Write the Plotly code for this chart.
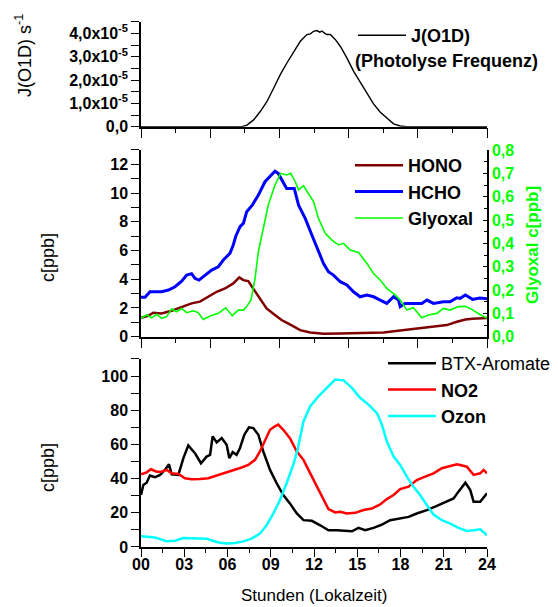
import plotly.graph_objects as go

FONT = "Liberation Sans, Arial, sans-serif"

# ---------------- data (hours local time) ----------------
j_hours = [0, 7.0, 7.35, 7.81, 8.27, 8.74, 9.2, 9.66, 10.12, 10.59, 11.05, 11.51, 11.75, 11.97, 12.2,
           12.4, 12.55, 12.75, 12.9, 13.13, 13.47, 13.82, 14.28, 14.75, 15.21, 15.67, 16.13, 16.6,
           17.06, 17.52, 17.98, 18.44, 24]
j_o1d = [0, 0, 0.07e-5, 0.29e-5, 0.65e-5, 1.08e-5, 1.65e-5, 2.23e-5, 2.73e-5, 3.23e-5, 3.66e-5,
         3.95e-5, 3.98e-5, 4.09e-5, 4.12e-5, 4.05e-5, 4.10e-5, 4.0e-5, 3.95e-5, 3.95e-5, 3.74e-5,
         3.45e-5, 2.95e-5, 2.37e-5, 1.9e-5, 1.44e-5, 0.98e-5, 0.62e-5, 0.36e-5, 0.12e-5, 0.03e-5, 0, 0]

hcho_hours = [0, 0.28, 0.62, 0.97, 1.43, 1.9, 2.36, 2.82, 3.17, 3.51, 3.74, 4.02, 4.44, 4.9, 5.36, 5.71,
              6.17, 6.4, 6.56, 6.87, 7.1, 7.33, 7.72, 8.14, 8.6, 8.95, 9.29, 9.52, 9.87, 10.1, 10.35,
              10.63, 10.93, 11.39, 11.85, 12.31, 12.66, 13.0, 13.35, 13.82, 14.28, 14.74, 15.2, 15.67,
              16.13, 16.59, 17.05, 17.52, 17.86, 17.98, 18.32, 18.9, 19.48, 19.83, 20.29, 20.98, 21.45,
              21.91, 22.14, 22.5, 23.0, 23.5, 24.0]
hcho = [2.74, 2.74, 3.13, 3.13, 3.13, 3.25, 3.48, 3.87, 4.29, 4.39, 4.06, 3.94, 4.29, 4.64, 4.87, 5.34,
        5.8, 6.38, 6.96, 7.66, 7.89, 8.7, 9.16, 9.86, 10.79, 11.14, 11.53, 11.37, 10.67, 10.32, 10.32,
        10.32, 9.16, 8.24, 7.08, 5.92, 5.1, 4.52, 4.29, 3.83, 3.6, 3.13, 2.78, 2.9, 2.78, 2.55, 2.32,
        2.78, 2.55, 2.09, 2.32, 2.32, 2.32, 2.55, 2.32, 2.44, 2.44, 2.71, 2.67, 2.9, 2.6, 2.7, 2.65]

hono_hours = [0, 0.5, 0.85, 1.43, 2.13, 2.82, 3.51, 4.09, 4.67, 5.25, 5.83, 6.4, 6.82, 7.1, 7.44, 7.79,
              8.25, 8.71, 9.29, 9.75, 10.2, 10.8, 11.04, 11.74, 12.66, 13.82, 14.97, 16.82, 17.98,
              19.13, 20.29, 21.21, 21.91, 22.5, 23.0, 24.0]
hono = [1.32, 1.46, 1.67, 1.62, 1.81, 2.09, 2.32, 2.44, 2.78, 3.13, 3.36, 3.71, 4.13, 3.94, 3.87, 3.36,
        2.67, 1.97, 1.51, 1.16, 0.93, 0.58, 0.46, 0.3, 0.21, 0.23, 0.26, 0.3, 0.44, 0.58, 0.7, 0.81,
        1.04, 1.2, 1.25, 1.3]

glyoxal_hours = [0, 0.39, 0.74, 1.09, 1.43, 1.78, 2.13, 2.47, 2.82, 3.17, 3.63, 3.97, 4.32, 4.79, 5.36,
                 5.87, 6.33, 6.75, 7.1, 7.33, 7.63, 7.91, 8.14, 8.48, 8.83, 9.29, 9.69, 10.1, 10.38,
                 10.7, 10.93, 11.27, 11.62, 11.97, 12.31, 12.78, 13.24, 13.7, 14.05, 14.51, 15.09,
                 15.67, 16.13, 16.59, 17.05, 17.63, 17.98, 18.44, 18.9, 19.48, 19.94, 20.52, 20.98,
                 21.45, 22.02, 22.5, 23.0, 23.5, 24.0]
glyoxal = [0.079, 0.093, 0.081, 0.096, 0.079, 0.086, 0.119, 0.107, 0.121, 0.103, 0.111, 0.103, 0.074,
           0.089, 0.1, 0.124, 0.09, 0.114, 0.114, 0.129, 0.157, 0.25, 0.364, 0.464, 0.564, 0.65, 0.7,
           0.693, 0.7, 0.664, 0.629, 0.647, 0.614, 0.579, 0.507, 0.443, 0.414, 0.393, 0.4, 0.371,
           0.361, 0.314, 0.271, 0.243, 0.207, 0.179, 0.157, 0.114, 0.124, 0.081, 0.093, 0.1, 0.121,
           0.114, 0.129, 0.13, 0.115, 0.095, 0.08]

btx_hours = [0, 0.16, 0.39, 0.62, 0.97, 1.32, 1.66, 1.94, 2.13, 2.59, 2.94, 3.28, 3.74, 4.16, 4.55,
             4.79, 4.97, 5.25, 5.6, 5.94, 6.13, 6.36, 6.63, 6.86, 7.17, 7.49, 7.79, 8.14, 8.48, 8.95,
             9.41, 9.87, 10.33, 10.81, 11.27, 11.85, 12.43, 13.0, 13.59, 14.16, 14.63, 15.09, 15.55,
             16.13, 16.71, 17.28, 17.98, 18.56, 19.13, 19.83, 20.52, 21.21, 21.68, 22.02, 22.5,
             22.84, 23.07, 23.53, 24.0]
btx = [30.4, 36.3, 37.6, 41.8, 40.8, 42.2, 45.1, 48.4, 42.5, 42.2, 52, 59.4, 54.9, 49, 52.9, 53.9,
       64.7, 61.2, 63.7, 59.8, 52, 55.5, 53.9, 57.8, 65.7, 70, 69.6, 65.7, 55.9, 45.1, 37.3, 30.4,
       25.5, 19.6, 15.7, 15.3, 12.7, 9.8, 9.8, 9.4, 9.2, 11.2, 9.8, 11.2, 13.1, 15.7, 16.7, 17.6,
       19.6, 21.6, 24.1, 26.5, 28.4, 32.4, 37.6, 33.3, 26.5, 26.5, 31.4]

no2_hours = [0, 0.39, 0.69, 1.09, 1.43, 1.78, 2.13, 2.59, 3.05, 3.51, 4.09, 4.67, 5.25, 5.83, 6.4,
             6.98, 7.44, 7.91, 8.25, 8.6, 8.95, 9.29, 9.52, 9.87, 10.33, 10.81, 11.27, 11.74, 12.2,
             12.66, 13.0, 13.47, 13.82, 14.28, 14.86, 15.44, 16.01, 16.59, 17.05, 17.52, 17.98,
             18.56, 19.13, 19.71, 20.29, 20.87, 21.33, 21.91, 22.14, 22.6, 23.07, 23.53, 23.76, 24.0]
no2 = [42.5, 43.7, 45.5, 44.1, 44.1, 45.1, 43.1, 42.7, 40.2, 39.6, 39.8, 40.2, 41.8, 43.3, 44.9,
       46.5, 48, 51, 55.9, 62.7, 68.6, 70.6, 71.6, 68.6, 63.7, 55.9, 51, 43.1, 35.3, 27.5, 22.2,
       20.2, 20.6, 19.6, 20, 21.6, 22.5, 24.9, 28, 30.4, 33.9, 35.3, 39.2, 41.2, 43.1, 46.1, 47.1,
       48.4, 48, 47, 42.2, 43.1, 45.1, 43.1]

ozon_hours = [0, 0.51, 0.97, 1.43, 1.78, 2.36, 2.94, 3.51, 4.09, 4.55, 5.02, 5.48, 5.94, 6.52, 7.1,
              7.67, 8.25, 8.71, 9.18, 9.64, 10.1, 10.56, 10.86, 11.27, 11.74, 12.31, 12.89, 13.47,
              14.05, 14.63, 15.2, 15.78, 16.36, 16.71, 17.05, 17.52, 17.98, 18.44, 18.9, 19.36,
              19.83, 20.29, 20.87, 21.45, 22.02, 22.6, 23.07, 23.53, 24.0]
ozon = [6.3, 5.9, 5.5, 4.3, 3.3, 3.7, 5.3, 5.1, 4.9, 4.9, 3.5, 2.5, 2.0, 2.4, 3.3, 4.9, 7.8, 12.7,
        19.6, 27.5, 37.3, 48, 56.9, 73.5, 82.4, 88.2, 93.1, 98, 97.5, 93.1, 87.3, 83.3, 78.4, 71.6,
        61.8, 52.9, 48, 41.2, 35.3, 30.4, 24.5, 19, 15.7, 13.7, 11.2, 9.4, 9.8, 10.4, 6.9]

hour_ticks = [0, 3, 6, 9, 12, 15, 18, 21, 24]
hour_labels = ["00", "03", "06", "09", "12", "15", "18", "21", "24"]
j_ticks = [0, 1e-5, 2e-5, 3e-5, 4e-5]
j_labels = ["0,0", "1,0x10<sup>-5</sup>", "2,0x10<sup>-5</sup>", "3,0x10<sup>-5</sup>", "4,0x10<sup>-5</sup>"]

# ---------------- figure ----------------
fig = go.Figure()

fig.add_trace(go.Scatter(x=j_hours, y=j_o1d, mode="lines", name="<b>J(O1D)</b>",
                         line=dict(color="black", width=1.4), xaxis="x3", yaxis="y4", legend="legend"))

fig.add_trace(go.Scatter(x=hono_hours, y=hono, mode="lines", name="<b>HONO</b>",
                         line=dict(color="#800000", width=2.5), xaxis="x2", yaxis="y2", legend="legend2"))
fig.add_trace(go.Scatter(x=hcho_hours, y=hcho, mode="lines", name="<b>HCHO</b>",
                         line=dict(color="#0000ff", width=3), xaxis="x2", yaxis="y2", legend="legend2"))
fig.add_trace(go.Scatter(x=glyoxal_hours, y=glyoxal, mode="lines", name="<b>Glyoxal</b>",
                         line=dict(color="#00ff00", width=1.6), xaxis="x2", yaxis="y3", legend="legend2"))

fig.add_trace(go.Scatter(x=btx_hours, y=btx, mode="lines", name="BTX-Aromate",
                         line=dict(color="black", width=2.5), xaxis="x", yaxis="y", legend="legend3"))
fig.add_trace(go.Scatter(x=no2_hours, y=no2, mode="lines", name="<b>NO2</b>",
                         line=dict(color="#ff0000", width=2.5), xaxis="x", yaxis="y", legend="legend3"))
fig.add_trace(go.Scatter(x=ozon_hours, y=ozon, mode="lines", name="<b>Ozon</b>",
                         line=dict(color="#00ffff", width=2.5), xaxis="x", yaxis="y", legend="legend3"))

tickfont = dict(family=FONT, size=16, color="black", weight="bold")

common_x = dict(range=[0, 24], showline=True, linecolor="black", linewidth=1.5, showgrid=False,
                zeroline=False, ticks="outside", tickcolor="black", tickwidth=1.2, automargin=False)
common_y = dict(showline=True, linecolor="black", linewidth=1.5, showgrid=False, zeroline=False,
                ticks="outside", tickcolor="black", tickwidth=1.2, ticklen=8, tickfont=tickfont,
                automargin=False)

legend_base = dict(xref="container", yref="container", xanchor="left", yanchor="top",
                   bgcolor="rgba(0,0,0,0)", borderwidth=0, itemwidth=48,
                   font=dict(family=FONT, size=18, color="black"))

ytitle = dict(xref="paper", yref="paper", showarrow=False, textangle=-90,
              xanchor="center", yanchor="middle", font=dict(family=FONT, size=18, color="black"))

fig.update_layout(
    width=558, height=607,
    margin=dict(l=141, r=71, t=10, b=60, autoexpand=False),
    paper_bgcolor="white", plot_bgcolor="white",
    separators=",.",
    xaxis=dict(common_x, domain=[0, 1], anchor="y", tickvals=hour_ticks, ticktext=hour_labels,
               ticklen=8, tickfont=tickfont, ticklabelstandoff=-6,
               minor=dict(dtick=1.5, tick0=0, ticklen=4, ticks="outside", tickcolor="black")),
    yaxis=dict(common_y, domain=[0, 0.3501], anchor="x", range=[0, 110], dtick=20, tick0=0,
               minor=dict(dtick=10, ticklen=8, ticks="outside", tickcolor="black")),
    xaxis2=dict(common_x, domain=[0, 1], anchor="y2", dtick=4.8, tick0=0, ticklen=10,
                showticklabels=False,
                minor=dict(dtick=2.4, tick0=0, ticklen=5, ticks="outside", tickcolor="black")),
    yaxis2=dict(common_y, domain=[0.3916, 0.7393], anchor="x2", range=[0, 13], dtick=2, tick0=0,
                minor=dict(dtick=1, ticklen=8, ticks="outside", tickcolor="black")),
    yaxis3=dict(common_y, overlaying="y2", side="right", anchor="x2", range=[0, 0.8], dtick=0.1,
                tick0=0, tickformat=".1f", ticks="inside", ticklen=4,
                tickfont=dict(family=FONT, size=16, color="#00ff00", weight="bold"),
                minor=dict(dtick=0.05, ticklen=3, ticks="inside", tickcolor="black")),
    xaxis3=dict(common_x, domain=[0, 1], anchor="y4", dtick=4.8, tick0=0, ticklen=10,
                showticklabels=False,
                minor=dict(dtick=2.4, tick0=0, ticklen=5, ticks="outside", tickcolor="black")),
    yaxis4=dict(common_y, domain=[0.7827, 0.9782], anchor="x3", range=[0, 4.5e-5], tickvals=j_ticks,
                ticktext=j_labels,
                minor=dict(dtick=0.5e-5, ticklen=8, ticks="outside", tickcolor="black")),
    legend=dict(legend_base, x=0.6326, y=0.972),
    legend2=dict(legend_base, x=0.6272, y=0.7578),
    legend3=dict(legend_base, x=0.6863, y=0.4316),
    annotations=[
        dict(text="<b>(Photolyse Frequenz)</b>", xref="paper", yref="paper",
             x=0.6127, y=0.9041, xanchor="left", yanchor="middle", showarrow=False,
             font=dict(family=FONT, size=18, color="black")),
        dict(ytitle, text="J(O1D) s<sup>-1</sup>", x=-0.341, y=0.9143),
        dict(ytitle, text="c[ppb]", x=-0.269, y=0.54),
        dict(ytitle, text="c[ppb]", x=-0.269, y=0.149),
        dict(ytitle, text="<b>Glyoxal c[ppb]</b>", x=1.133, y=0.5624,
             font=dict(family=FONT, size=17, color="#00ff00")),
        dict(text="Stunden (Lokalzeit)", xref="paper", yref="paper", x=0.5, y=-0.0912,
             xanchor="center", yanchor="middle", showarrow=False,
             font=dict(family=FONT, size=17, color="black")),
    ],
    showlegend=True,
)

fig.write_html("out.html")
